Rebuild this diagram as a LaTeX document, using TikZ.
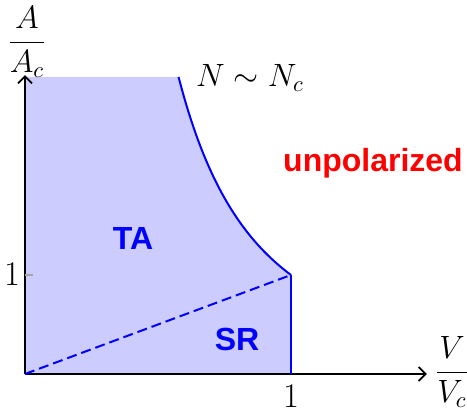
\documentclass[tikz,border=0pt]{standalone}
\usepackage{amsmath}
\usepackage{fontspec}
\setsansfont{Liberation Sans}
\usepackage{xcolor}
\usetikzlibrary{arrows.meta, positioning, calc}

\definecolor{phasefill}{RGB}{204,204,255}
\newcommand{\bigmath}[1]{\scalebox{1.12}{$#1$}}

\begin{document}
\begin{tikzpicture}[x=133pt, y=49.5pt,
    axis/.style={black, line width=0.75pt, -{Straight Barb[length=3.5pt, width=7pt, line width=0.9pt]}},
    border/.style={blue, line width=1pt},
    region/.style={font=\fontsize{16}{18}\sffamily\bfseries, text=blue},
    axlabel/.style={font=\fontsize{14.4}{16}\selectfont, inner sep=0pt}]
    \useasboundingbox (-12.5pt,-20.5pt) rectangle (221pt,187pt);

    % corners of the phase region
    \coordinate (O) at (0,0);
    \coordinate (Atop) at (0,3);
    \coordinate (Ntop) at ({1/sqrt(3)},3);
    \coordinate (C) at (1,1);
    \coordinate (Vone) at (1,0);

    % shaded region
    \fill[phasefill] (O) -- (Atop) -- (Ntop)
        -- plot[domain={1/sqrt(3)}:1, samples=40, smooth] (\x,{1/(\x*\x)})
        -- (Vone) -- cycle;

    % axes
    \coordinate (Xend) at (1.511,0);
    \coordinate (Yend) at (0,3.02);
    \draw[axis] (O) -- (Xend);
    \draw[axis] (O) -- (Yend);
    \draw[gray!70, line width=0.6pt] (0,1) -- ++(4pt,0);

    % boundaries
    \draw[border] plot[domain={1/sqrt(3)}:1, samples=40, smooth] (\x,{1/(\x*\x)});
    \draw[border] (C) -- (Vone);
    \draw[border, dash pattern=on 5pt off 2.5pt] (O) -- (C);

    % labels
    \node[axlabel] (alab) at (1pt,166pt) {\bigmath{\dfrac{A}{A_c}}};
    \node[axlabel] (vlab) at (213.5pt,1pt) {\bigmath{\dfrac{V}{V_c}}};
    \node[axlabel, font=\fontsize{17.28}{18}\selectfont] (xone) at (133pt,-11pt) {$1$};
    \node[axlabel, font=\fontsize{17.28}{18}\selectfont] (yone) at (-6.5pt,50pt) {$1$};
    \node[axlabel, anchor=base] (nlab) at (112.5pt,143.5pt) {\bigmath{N\sim N_c}};
    \node[region] (ta) at (54pt,67.5pt) {TA};
    \node[region] (sr) at (106pt,17.5pt) {SR};
    \node[region, text=red] (unpol) at (174pt,105.5pt) {unpolarized};
\end{tikzpicture}
\end{document}
